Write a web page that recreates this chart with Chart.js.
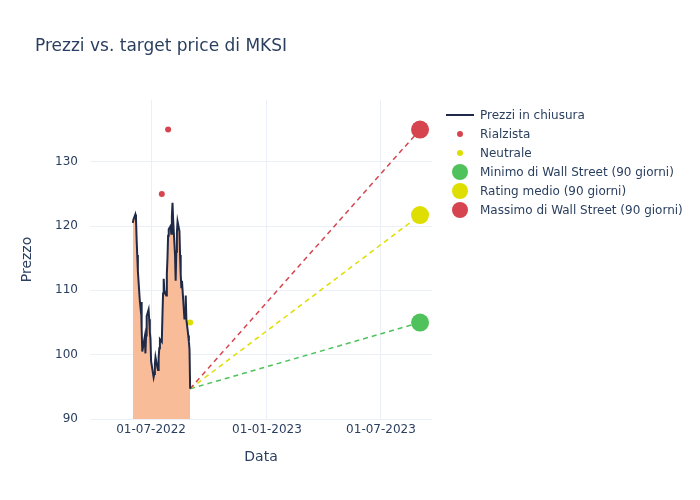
<!DOCTYPE html>
<html>
<head>
<meta charset="utf-8">
<script src="https://cdn.jsdelivr.net/npm/chart.js@4"></script>
<style>
  body { margin: 0; background: #fff; font-family: "DejaVu Sans", sans-serif; color: #2a3f5f; }
  #wrap { position: relative; width: 700px; height: 500px; }
  #title { position: absolute; left: 35px; top: 35px; font-size: 17px; color: #2a3f5f; }
  #legend { position: absolute; left: 446px; top: 105px; font-size: 12px; }
  .item { height: 19px; display: flex; align-items: center; }
  .sym { width: 28px; height: 19px; display: flex; align-items: center; justify-content: center; margin-right: 6px; }
</style>
</head>
<body>
<div id="wrap">
  <canvas id="chart" width="700" height="500"></canvas>
  <div id="title">Prezzi vs. target price di MKSI</div>
  <div id="legend"></div>
</div>
<script>
// ─── Data ────────────────────────────────────────────────────────────────────
const priceDates = [
    '2022-06-02', '2022-06-03', '2022-06-06', '2022-06-07', '2022-06-08', '2022-06-09', '2022-06-10',
    '2022-06-13', '2022-06-14', '2022-06-15', '2022-06-16', '2022-06-17',
    '2022-06-21', '2022-06-22', '2022-06-23', '2022-06-24',
    '2022-06-27', '2022-06-28', '2022-06-29', '2022-06-30', '2022-07-01',
    '2022-07-05', '2022-07-06', '2022-07-07', '2022-07-08',
    '2022-07-11', '2022-07-12', '2022-07-13', '2022-07-14', '2022-07-15',
    '2022-07-18', '2022-07-19', '2022-07-20', '2022-07-21', '2022-07-22',
    '2022-07-25', '2022-07-26', '2022-07-27', '2022-07-28', '2022-07-29',
    '2022-08-01', '2022-08-02', '2022-08-03', '2022-08-04', '2022-08-05',
    '2022-08-08', '2022-08-09', '2022-08-10', '2022-08-11', '2022-08-12',
    '2022-08-15', '2022-08-16', '2022-08-17', '2022-08-18', '2022-08-19',
    '2022-08-22', '2022-08-23', '2022-08-24', '2022-08-25', '2022-08-26',
    '2022-08-29', '2022-08-30', '2022-08-31', '2022-09-01'
];
const closePrices = [
    120.5, 121.0, 121.8, 121.2, 118.0, 115.5, 113.0,
    108.5, 107.5, 108.2, 104.0, 100.5,
    102.8, 100.2, 103.0, 106.0,
    107.0, 105.5, 103.5, 102.5, 99.0,
    96.5, 97.0, 98.5, 99.6,
    98.0, 97.6, 99.5, 101.0, 102.4,
    102.0, 106.0, 109.5, 111.8, 110.0,
    109.2, 112.5, 115.0, 118.5, 119.5,
    120.0, 118.8, 121.5, 123.6, 121.0,
    115.5, 111.5, 116.0, 119.0, 120.7,
    119.2, 115.5, 112.5, 110.5, 111.5,
    107.0, 105.5, 106.5, 109.2, 105.5,
    103.0, 102.0, 100.8, 94.7
];

const bullishDates  = ['2022-07-18', '2022-07-28'];
const bullishValues = [125, 135];
const neutralDates  = ['2022-09-01'];
const neutralValues = [105];

const targetDate   = '2023-09-01';
const targetLow    = 105;
const targetMedian = 121.7;
const targetHigh   = 135;

const xTickDates = ['2022-07-01', '2023-01-01', '2023-07-01'];
const yTicks     = [90, 100, 110, 120, 130];

// ─── Helpers ─────────────────────────────────────────────────────────────────
function ms(d) {
    const p = d.split('-');
    return Date.UTC(+p[0], +p[1] - 1, +p[2]);
}
function fmt(v) {
    const d = new Date(v);
    const dd = String(d.getUTCDate()).padStart(2, '0');
    const mm = String(d.getUTCMonth() + 1).padStart(2, '0');
    return dd + '-' + mm + '-' + d.getUTCFullYear();
}

const RED = '#d6454f', YELLOW = '#dede00', GREEN = '#4fc25c', DARK = '#1f2a48';
const TEXT = '#2a3f5f', GRID = '#ebf0f8';
const FONT = 'DejaVu Sans';

const lastDate = priceDates[priceDates.length - 1];
const lastPrice = closePrices[closePrices.length - 1];

function pts(dates, vals) {
    return dates.map(function (d, i) { return { x: ms(d), y: vals[i] }; });
}
function dashLine(target, color) {
    return {
        type: 'line',
        data: [{ x: ms(lastDate), y: lastPrice }, { x: ms(targetDate), y: target }],
        borderColor: color, borderWidth: 1.5, borderDash: [5, 4],
        pointRadius: 0, fill: false
    };
}
function bigDot(target, color) {
    return {
        type: 'scatter',
        data: [{ x: ms(targetDate), y: target }],
        backgroundColor: color, borderWidth: 0, pointRadius: 9
    };
}

const bgPlugin = {
    id: 'bg',
    beforeDraw: function (c) {
        const ctx = c.ctx;
        ctx.save();
        ctx.fillStyle = '#fff';
        ctx.fillRect(0, 0, c.width, c.height);
        ctx.restore();
    }
};

new Chart(document.getElementById('chart'), {
    type: 'line',
    data: {
        datasets: [
            {
                data: pts(priceDates, closePrices),
                borderColor: DARK, borderWidth: 2,
                backgroundColor: 'rgba(249,184,146,0.95)',
                fill: 'start', pointRadius: 0, tension: 0
            },
            dashLine(targetHigh, RED),
            dashLine(targetMedian, YELLOW),
            dashLine(targetLow, GREEN),
            { type: 'scatter', data: pts(bullishDates, bullishValues), backgroundColor: RED, borderWidth: 0, pointRadius: 3 },
            { type: 'scatter', data: pts(neutralDates, neutralValues), backgroundColor: YELLOW, borderWidth: 0, pointRadius: 3 },
            bigDot(targetLow, GREEN),
            bigDot(targetMedian, YELLOW),
            bigDot(targetHigh, RED)
        ]
    },
    options: {
        responsive: false,
        animation: false,
        layout: { padding: { top: 100, right: 268, left: 15, bottom: 30 } },
        plugins: { legend: { display: false }, tooltip: { enabled: false } },
        scales: {
            x: {
                type: 'linear',
                min: ms('2022-03-26'),
                max: ms('2023-09-20'),
                afterBuildTicks: function (s) { s.ticks = xTickDates.map(function (d) { return { value: ms(d) }; }); },
                afterFit: function (s) { s.height = 51; },
                ticks: { callback: fmt, color: TEXT, font: { family: FONT, size: 12 }, padding: 4, maxRotation: 0 },
                grid: { color: GRID, drawTicks: false },
                border: { display: false },
                title: { display: true, text: 'Data', color: TEXT, font: { family: FONT, size: 14 }, padding: { top: 12 } }
            },
            y: {
                min: 90,
                max: 139.6,
                afterBuildTicks: function (s) { s.ticks = yTicks.map(function (v) { return { value: v }; }); },
                afterFit: function (s) { s.width = 75; },
                ticks: { color: TEXT, font: { family: FONT, size: 12 }, padding: 12 },
                grid: { color: GRID, drawTicks: false },
                border: { display: false },
                title: { display: true, text: 'Prezzo', color: TEXT, font: { family: FONT, size: 14 }, padding: { bottom: 8 } }
            }
        }
    },
    plugins: [bgPlugin]
});

// ─── HTML legend ─────────────────────────────────────────────────────────────
const legendItems = [
    { label: 'Prezzi in chiusura', kind: 'line', color: DARK },
    { label: 'Rialzista', kind: 'dot', color: RED, r: 3 },
    { label: 'Neutrale', kind: 'dot', color: YELLOW, r: 3 },
    { label: 'Minimo di Wall Street (90 giorni)', kind: 'dot', color: GREEN, r: 8 },
    { label: 'Rating medio (90 giorni)', kind: 'dot', color: YELLOW, r: 8 },
    { label: 'Massimo di Wall Street (90 giorni)', kind: 'dot', color: RED, r: 8 }
];
const legendEl = document.getElementById('legend');
legendItems.forEach(function (it) {
    const row = document.createElement('div');
    row.className = 'item';
    const sym = document.createElement('div');
    sym.className = 'sym';
    const m = document.createElement('div');
    if (it.kind === 'line') {
        m.style.cssText = 'width:28px;height:2px;background:' + it.color;
    } else {
        m.style.cssText = 'width:' + it.r * 2 + 'px;height:' + it.r * 2 + 'px;border-radius:50%;background:' + it.color;
    }
    sym.appendChild(m);
    row.appendChild(sym);
    const t = document.createElement('span');
    t.textContent = it.label;
    row.appendChild(t);
    legendEl.appendChild(row);
});
</script>
</body>
</html>
